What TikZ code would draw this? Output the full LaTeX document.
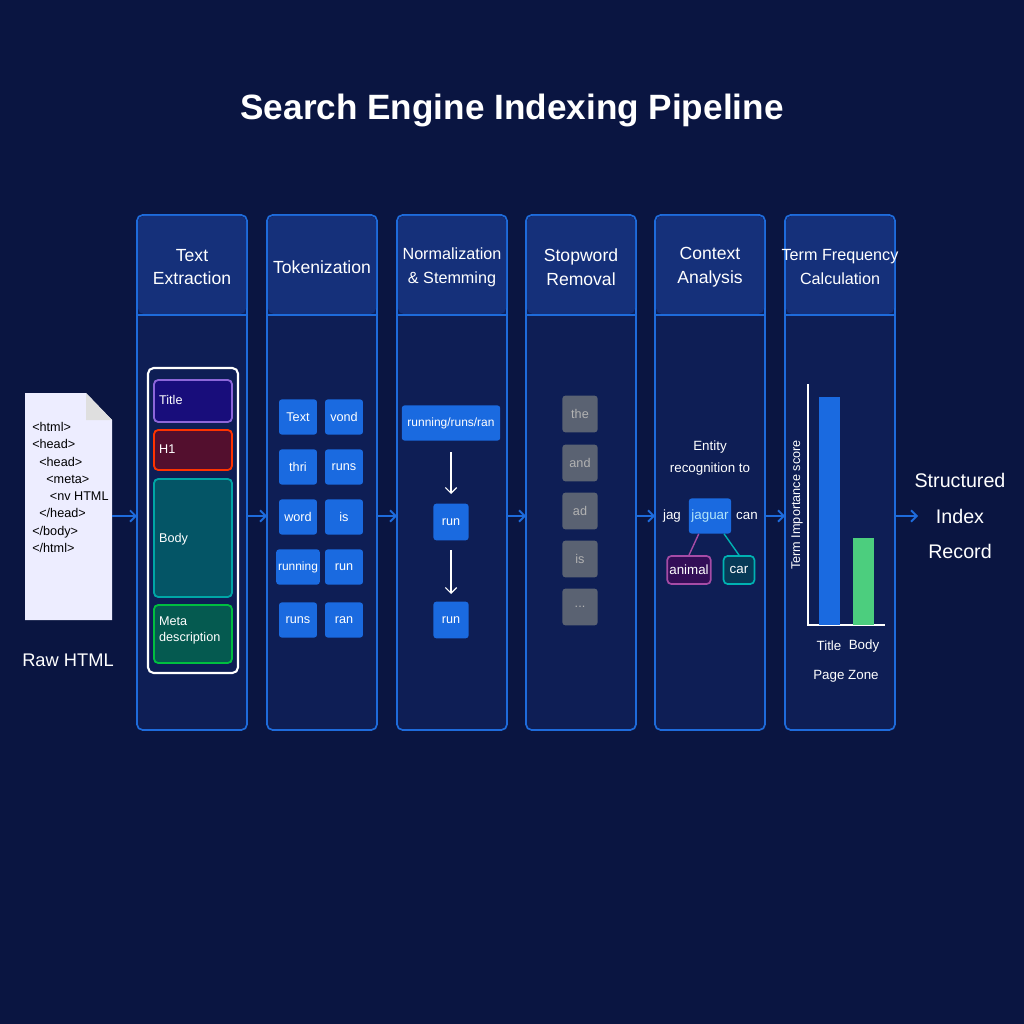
\documentclass[tikz,border=0pt]{standalone}
\usepackage{fontspec}
\setmainfont{Liberation Sans}
\usetikzlibrary{arrows.meta}
\definecolor{bg}{HTML}{0A1541}
\definecolor{colf}{HTML}{0E1E55}
\definecolor{colb}{HTML}{1E6BDB}
\definecolor{headf}{HTML}{15307A}
\definecolor{tok}{HTML}{1A6AE0}
\definecolor{grayb}{HTML}{5A6272}
\begin{document}
\begin{tikzpicture}[x=0.025cm,y=-0.025cm,
 col/.style={draw=colb,line width=1.2pt,fill=colf,rounded corners=4pt},
 hd/.style={text=white,font=\fontsize{12.5}{17}\selectfont,align=center},
 tk/.style={fill=tok,rounded corners=2pt,text=white,font=\fontsize{9}{10}\selectfont,minimum height=25pt,inner sep=1pt},
 gb/.style={fill=grayb,rounded corners=2pt,text=gray!60,font=\fontsize{9}{11}\selectfont,minimum width=25pt,minimum height=26pt},
 flow/.style={-{Straight Barb[length=4pt]},colb,line width=1.3pt},
 dn/.style={-{Straight Barb[length=4pt]},white,line width=0.8pt},
 zone/.style={rounded corners=3pt,line width=1.3pt,text=white,font=\fontsize{9}{11}\selectfont,align=left,anchor=north west,inner sep=3pt,text width=48pt}]
\fill[bg] (0,0) rectangle (1024,1024);
\useasboundingbox (0,0) rectangle (1024,1024);
\node[text=white,font=\bfseries\fontsize{25}{30}\selectfont] (title) at (512,110) {Search Engine Indexing Pipeline};
% columns
\foreach \i/\x in {1/137,2/267,3/397,4/526,5/655,6/785}{
 \draw[col] (\x,215) rectangle +(110,515);
 \fill[headf,rounded corners=4pt] (\x+1,216) rectangle +(108,98);
 \draw[colb,line width=1.2pt] (\x,315) -- +(110,0);
 \coordinate (L\i) at (\x,516);
 \coordinate (R\i) at (\x+110,516);
}
\node[hd] (h1) at (192,267) {Text\\Extraction};
\node[hd] (h2) at (322,267) {Tokenization};
\node[hd,font=\fontsize{11.5}{17}\selectfont] (h3) at (452,267) {Normalization\\\& Stemming};
\node[hd] (h4) at (581,267) {Stopword\\Removal};
\node[hd] (h5) at (710,267) {Context\\Analysis};
\node[hd,font=\fontsize{11.5}{17}\selectfont] (h6) at (840,267) {Term Frequency\\Calculation};
% document
\fill[white!93!blue] (25,393) -- (86,393) -- (112,420) -- (112,620) -- (25,620) -- cycle;
\fill[white!75!gray] (86,393) -- (86,420) -- (112,420) -- cycle;
\node[font=\fontsize{9}{12.3}\selectfont,align=left,anchor=north west,inner sep=0] (doc) at (32,422) {<html>\\<head>\\\ \ <head>\\\ \ \ \ <meta>\\\ \ \ \ \ <nv HTML\\\ \ </head>\\</body>\\</html>};
\coordinate (docR) at (112,516);
\node[text=white,font=\fontsize{13}{16}\selectfont] (raw) at (68,660) {Raw HTML};
% flow arrows
\draw[flow] (docR) -- (L1);
\draw[flow] (R1) -- (L2);
\draw[flow] (R2) -- (L3);
\draw[flow] (R3) -- (L4);
\draw[flow] (R4) -- (L5);
\draw[flow] (R5) -- (L6);
\coordinate (outL) at (918,516);
\draw[flow] (R6) -- (outL);
\node[text=white,font=\fontsize{14}{25}\selectfont,align=center] (out) at (960,516) {Structured\\Index\\Record};
% col1
\draw[white,line width=1.5pt,rounded corners=4pt] (148,368) rectangle (238,673);
\draw[zone,draw=violet!50!blue!60!white,fill=violet!35!blue!40!bg] (154,380) rectangle (232,422);
\node[zone] (z1) at (154,390) {Title};
\draw[zone,draw=red!60!orange,fill=red!30!bg] (154,430) rectangle (232,470);
\node[zone] (z2) at (154,440) {H1};
\draw[zone,draw=teal!70!cyan,fill=teal!60!bg] (154,479) rectangle (232,597);
\node[zone] (z3) at (154,528) {Body};
\draw[zone,draw=green!50!teal,fill=green!25!teal!50!bg] (154,605) rectangle (232,663);
\node[zone] (z4) at (154,612) {Meta\\description};
% col2
\node[tk,minimum width=27pt] (t1) at (298,417) {Text};
\node[tk,minimum width=27pt] (t2) at (344,417) {vond};
\node[tk,minimum width=27pt] (t3) at (298,467) {thri};
\node[tk,minimum width=27pt] (t4) at (344,467) {runs};
\node[tk,minimum width=27pt] (t5) at (298,517) {word};
\node[tk,minimum width=27pt] (t6) at (344,517) {is};
\node[tk,minimum width=31pt,font=\fontsize{8.5}{10}\selectfont] (t7) at (298,567) {running};
\node[tk,minimum width=27pt] (t8) at (344,567) {run};
\node[tk,minimum width=27pt] (t9) at (298,620) {runs};
\node[tk,minimum width=27pt] (t10) at (344,620) {ran};
% col3
\node[tk,minimum width=70pt,font=\fontsize{8.5}{10}\selectfont] (n1) at (451,423) {running/runs/ran};
\node[tk,minimum width=25pt,minimum height=26pt] (n2) at (451,522) {run};
\node[tk,minimum width=25pt,minimum height=26pt] (n3) at (451,620) {run};
\draw[dn] (451,452) -- (451,494);
\draw[dn] (451,550) -- (451,594);
% col4
\node[gb] (s1) at (580,414) {the};
\node[gb] (s2) at (580,463) {and};
\node[gb] (s3) at (580,511) {ad};
\node[gb] (s4) at (580,559) {is};
\node[gb] (s5) at (580,607) {...};
% col5
\node[text=white,font=\fontsize{9.5}{15}\selectfont,align=center] (ent) at (710,458) {Entity\\recognition to};
\node[text=white,font=\fontsize{9.5}{11}\selectfont] (jag) at (672,516) {jag};
\node[tk,minimum width=30pt,minimum height=25pt,text=cyan!30!white,font=\fontsize{9.5}{11}\selectfont] (jg) at (710,516) {jaguar};
\node[text=white,font=\fontsize{9.5}{11}\selectfont] (can) at (747,516) {can};
\node[draw=violet!70!white,line width=1.2pt,fill=violet!35!bg,rounded corners=3pt,text=white,font=\fontsize{9.5}{11}\selectfont,minimum width=31pt,minimum height=20pt,inner sep=1pt] (an) at (689,570) {animal};
\node[draw=teal!60!cyan,line width=1.2pt,fill=teal!35!bg,rounded corners=3pt,text=white,font=\fontsize{9.5}{11}\selectfont,minimum width=22pt,minimum height=20pt,inner sep=1pt] (car) at (739,570) {car};
\draw[violet!70!white,line width=1pt] ([xshift=-8]jg.south) -- (an.north);
\draw[teal!60!cyan,line width=1pt] ([xshift=10]jg.south) -- (car.north);
% col6
\coordinate (o) at (808,625);
\coordinate (yt) at (808,384);
\coordinate (xe) at (885,625);
\draw[white,line width=1pt] (yt) -- (o) -- (xe);
\fill[tok] (819,397) rectangle (840,625);
\fill[green!45!teal!70!white] (853,538) rectangle (874,625);
\node[rotate=90,text=white,font=\fontsize{9}{11}\selectfont] (yl) at (797,505) {Term Importance score};
\node[text=white,font=\fontsize{9.5}{11}\selectfont] (xt) at (829,646) {Title};
\node[text=white,font=\fontsize{9.5}{11}\selectfont] (xb) at (864,646) {Body};
\node[text=white,font=\fontsize{9.5}{11}\selectfont] (pz) at (846,676) {Page Zone};
\end{tikzpicture}
\end{document}
